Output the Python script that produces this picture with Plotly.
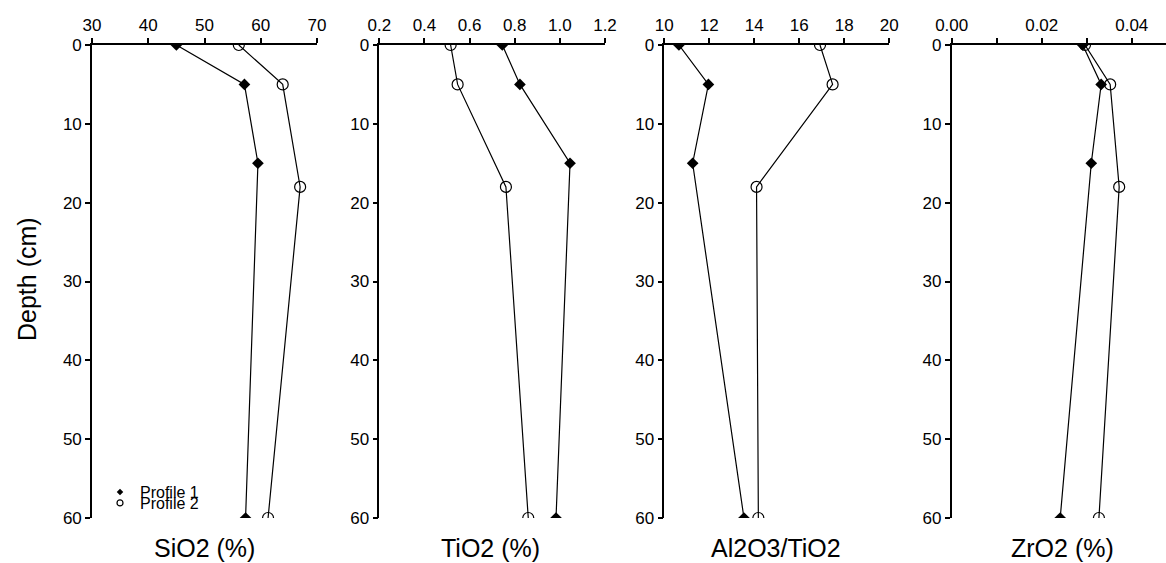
import plotly.graph_objects as go

# ---- data ----
depth_p1 = [0, 5, 15, 60]
depth_p2 = [0, 5, 18, 60]

sio2_p1 = [45.0, 57.1, 59.5, 57.3]
sio2_p2 = [56.1, 63.9, 67.0, 61.3]

tio2_p1 = [0.745, 0.823, 1.045, 0.983]
tio2_p2 = [0.516, 0.547, 0.761, 0.860]

alti_p1 = [10.65, 11.96, 11.26, 13.54]
alti_p2 = [16.92, 17.48, 14.10, 14.18]

zro2_p1 = [0.0291, 0.0332, 0.0310, 0.0241]
zro2_p2 = [0.0296, 0.0352, 0.0372, 0.0327]

panel_titles = ["SiO2 (%)", "TiO2 (%)", "Al2O3/TiO2", "ZrO2 (%)"]
y_ticks = [0, 10, 20, 30, 40, 50, 60]
x_ticks = [
    [30, 40, 50, 60, 70],
    [0.2, 0.4, 0.6, 0.8, 1.0, 1.2],
    [10, 12, 14, 16, 18, 20],
    [0.00, 0.01, 0.02, 0.03, 0.04],
]
x_ticktext = [
    ["30", "40", "50", "60", "70"],
    ["0.2", "0.4", "0.6", "0.8", "1.0", "1.2"],
    ["10", "12", "14", "16", "18", "20"],
    ["0.00", "", "0.02", "", "0.04"],
]
series_names = ["Profile 1", "Profile 2"]

# ---- layout geometry ----
W, H = 1166, 563
TOP, BOT = 45, 518
x_ranges = [[30, 70], [0.2, 1.2], [10, 20], [0, 0.0476]]
x_px = [(92, 317), (379.3, 605), (664.3, 889.3), (951.7, 1166)]

FONT = "Liberation Sans, Arial, sans-serif"

fig = go.Figure()

p1_vals = [sio2_p1, tio2_p1, alti_p1, zro2_p1]
p2_vals = [sio2_p2, tio2_p2, alti_p2, zro2_p2]

for i in range(4):
    sfx = "" if i == 0 else str(i + 1)
    fig.add_trace(go.Scatter(
        x=p2_vals[i], y=depth_p2, mode="lines+markers",
        xaxis="x" + sfx, yaxis="y" + sfx, showlegend=False,
        line=dict(color="black", width=1.2),
        marker=dict(symbol="circle-open", size=11, color="black",
                    line=dict(width=1.2, color="black")),
        name=series_names[1]))
    fig.add_trace(go.Scatter(
        x=p1_vals[i], y=depth_p1, mode="lines+markers",
        xaxis="x" + sfx, yaxis="y" + sfx, showlegend=False,
        line=dict(color="black", width=1.2),
        marker=dict(symbol="diamond", size=9, color="black"),
        name=series_names[0]))

# legend-only entries
fig.add_trace(go.Scatter(x=[None], y=[None], mode="markers", name=series_names[0],
                         marker=dict(symbol="diamond", size=5, color="black"),
                         legend="legend"))
fig.add_trace(go.Scatter(x=[None], y=[None], mode="markers", name=series_names[1],
                         marker=dict(symbol="circle-open", size=6, color="black",
                                     line=dict(width=1.2, color="black")),
                         legend="legend2"))

ph = BOT - TOP
def py(p):
    return (BOT - p) / ph

layout = dict(
    width=W, height=H,
    margin=dict(l=0, r=0, t=TOP, b=H - BOT, pad=0, autoexpand=False),
    paper_bgcolor="white", plot_bgcolor="white",
    font=dict(family=FONT, color="black", size=17),
)

for i in range(4):
    sfx = "" if i == 0 else str(i + 1)
    x0, x1 = x_px[i]
    layout["xaxis" + sfx] = dict(
        domain=[x0 / W, min(x1 / W, 1.0)], range=x_ranges[i],
        side="top", anchor="y" + sfx, automargin=False,
        showline=True, linecolor="black", linewidth=1.6,
        ticks="outside", ticklen=5, tickwidth=1.5, tickcolor="black",
        tickvals=x_ticks[i], ticktext=x_ticktext[i],
        showgrid=False, zeroline=False,
        tickfont=dict(family=FONT, size=17, color="black"),
    )
    layout["yaxis" + sfx] = dict(
        domain=[0, 1], range=[60, 0], anchor="x" + sfx, automargin=False,
        showline=True, linecolor="black", linewidth=1.6,
        ticks="outside", ticklen=5, tickwidth=1.5, tickcolor="black",
        tickvals=y_ticks, showgrid=False, zeroline=False,
        tickfont=dict(family=FONT, size=17, color="black"),
    )

annotations = []
for i in range(4):
    cx = [204.5, 490, 776, 1062][i]
    annotations.append(dict(
        x=cx / W, y=py(548), xref="paper", yref="paper",
        text=panel_titles[i], showarrow=False,
        xanchor="center", yanchor="middle",
        font=dict(family=FONT, size=25, color="black")))
annotations.append(dict(
    x=27 / W, y=py(279), xref="paper", yref="paper",
    text="Depth (cm)", showarrow=False, textangle=-90,
    xanchor="center", yanchor="middle",
    font=dict(family=FONT, size=25, color="black")))
layout["annotations"] = annotations

leg_common = dict(bgcolor="rgba(0,0,0,0)", borderwidth=0,
                  font=dict(family=FONT, size=16, color="black"),
                  xanchor="left", yanchor="middle", itemsizing="trace",
                  tracegroupgap=0, itemwidth=30)
layout["legend"] = dict(x=100 / W, y=py(492), **leg_common)
layout["legend2"] = dict(x=100 / W, y=py(503), **leg_common)
layout["showlegend"] = True

fig.update_layout(**layout)
fig.write_html("out.html")
